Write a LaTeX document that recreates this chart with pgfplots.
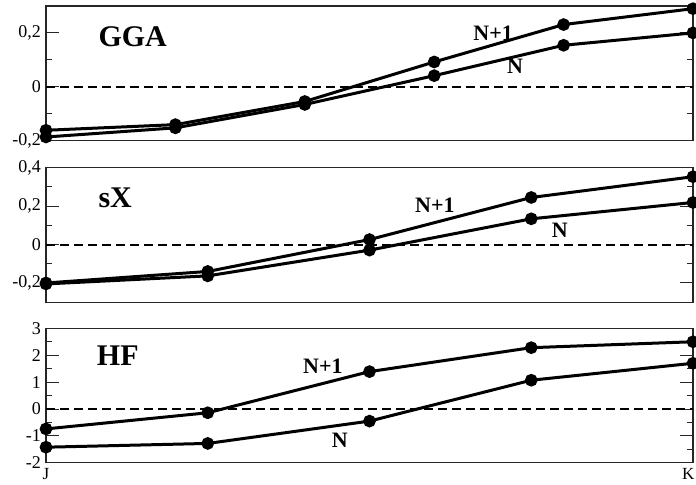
\documentclass[border=0pt]{standalone}
\usepackage{pgfplots}
\pgfplotsset{compat=1.18}
\usepackage{fontspec}
\setmainfont{Liberation Serif}

\pgfplotsset{
  panel/.style={
    scale only axis, width=647bp, height=134.5bp, clip=false,
    xmin=0, xmax=1,
    axis line style={black!85, line width=1.2bp},
    major tick length=13bp, minor tick length=6bp,
    tick style={black!85, line width=1bp},
    xtick style={draw=none},
    yticklabel style={font=\fontsize{18bp}{21bp}\selectfont, inner xsep=5bp},
    anchor=north west,
  },
}
\tikzset{
  data/.style={black, line width=3bp, mark=*, mark size=4.8bp},
  zero/.style={black, line width=2bp, dash pattern=on 9bp off 5bp},
  big/.style={font=\bfseries\fontsize{30bp}{36bp}\selectfont},
  lab/.style={font=\bfseries\fontsize{22bp}{26bp}\selectfont},
}

\begin{document}
\begin{tikzpicture}
\path[use as bounding box] (0,0) rectangle (696bp,-485bp);

% GGA
\begin{axis}[panel, at={(46bp,-6bp)},
  ymin=-0.2, ymax=0.3,
  ytick={-0.2,0,0.2}, yticklabels={{-0,2},{0},{0,2}},
  minor ytick={-0.1,0.1},
  xtick=\empty]
\addplot[zero] coordinates {(0,0) (1,0)};
\addplot[data] coordinates {(0,-0.162)(0.2,-0.141)(0.4,-0.055)(0.6,0.092)(0.8,0.231)(1,0.29)};
\addplot[data] coordinates {(0,-0.187)(0.2,-0.153)(0.4,-0.066)(0.6,0.041)(0.8,0.154)(1,0.2)};
\node[big] at (axis cs:0.134,0.187) {GGA};
\node[lab] at (axis cs:0.691,0.2) {N+1};
\node[lab] at (axis cs:0.725,0.077) {N};
\end{axis}

% sX
\begin{axis}[panel, at={(46bp,-167.7bp)},
  ymin=-0.3, ymax=0.4,
  ytick={-0.2,0,0.2,0.4}, yticklabels={{-0,2},{0},{0,2},{0,4}},
  minor ytick={-0.1,0.1,0.3},
  xtick=\empty]
\addplot[zero] coordinates {(0,0) (1,0)};
\addplot[data] coordinates {(0,-0.2)(0.25,-0.14)(0.5,0.026)(0.75,0.245)(1,0.353)};
\addplot[data] coordinates {(0,-0.205)(0.25,-0.163)(0.5,-0.029)(0.75,0.134)(1,0.219)};
\node[big] at (axis cs:0.107,0.245) {sX};
\node[lab] at (axis cs:0.601,0.207) {N+1};
\node[lab] at (axis cs:0.794,0.075) {N};
\end{axis}

% HF
\begin{axis}[panel, at={(46bp,-328.3bp)},
  ymin=-2, ymax=3,
  ytick={-2,-1,0,1,2,3},
  yticklabels={{-2},{-1},{0},{1},{2},{3}},
  minor ytick={-1.5,-0.5,0.5,1.5,2.5},
  xtick={0,1}, xticklabels={J,{\hspace*{3bp}\makebox[0pt][r]{K}}},
  xticklabel style={font=\fontsize{17bp}{20bp}\selectfont, inner ysep=5bp}]
\addplot[zero] coordinates {(0,0) (1,0)};
\addplot[data] coordinates {(0,-0.74)(0.25,-0.14)(0.5,1.39)(0.75,2.28)(1,2.5)};
\addplot[data] coordinates {(0,-1.42)(0.25,-1.28)(0.5,-0.45)(0.75,1.07)(1,1.7)};
\node[big] at (axis cs:0.111,1.98) {HF};
\node[lab] at (axis cs:0.428,1.6) {N+1};
\node[lab] at (axis cs:0.454,-1.18) {N};
\end{axis}
\end{tikzpicture}
\end{document}
